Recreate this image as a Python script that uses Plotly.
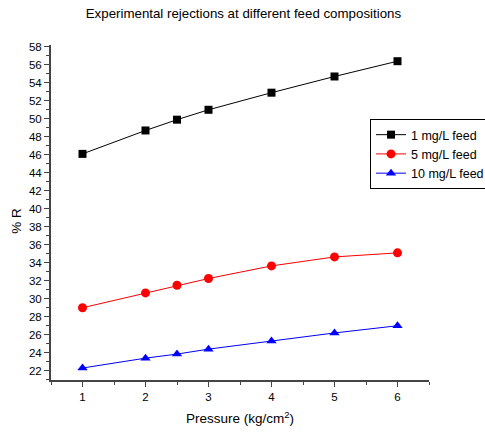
import plotly.graph_objects as go

pressure = [1, 2, 2.5, 3, 4, 5, 6]
feed_1 = [46.1, 48.7, 49.9, 51.0, 52.9, 54.7, 56.4]
feed_5 = [29.0, 30.65, 31.5, 32.25, 33.65, 34.65, 35.1]
feed_10 = [22.3, 23.4, 23.85, 24.4, 25.3, 26.2, 27.0]
y_ticks = list(range(22, 59, 2))
x_ticks = [1, 2, 3, 4, 5, 6]

fig = go.Figure()
fig.add_trace(go.Scatter(x=pressure, y=feed_1, mode="lines+markers", name="1 mg/L feed",
                         line=dict(color="black", width=1),
                         marker=dict(symbol="square", size=8, color="black")))
fig.add_trace(go.Scatter(x=pressure, y=feed_5, mode="lines+markers", name="5 mg/L feed",
                         line=dict(color="red", width=1),
                         marker=dict(symbol="circle", size=9, color="red")))
fig.add_trace(go.Scatter(x=pressure, y=feed_10, mode="lines+markers", name="10 mg/L feed",
                         line=dict(color="blue", width=1),
                         marker=dict(symbol="triangle-up", size=9, color="blue")))

font = "Liberation Sans, Arial, sans-serif"
fig.update_layout(
    width=485, height=436,
    margin=dict(l=51, r=56, t=45, b=56, autoexpand=False),
    paper_bgcolor="white", plot_bgcolor="white",
    font=dict(family=font, size=11.5, color="black"),
    title=dict(text="Experimental rejections at different feed compositions",
               x=0.509, xref="paper", xanchor="center", y=0.97, yanchor="middle",
               font=dict(size=13.3, family=font)),
    showlegend=True,
    legend=dict(x=0.844, y=0.779, xanchor="left", yanchor="top",
                bordercolor="black", borderwidth=1, bgcolor="white",
                font=dict(size=12.5, family=font), tracegroupgap=0,
                itemwidth=30),
    xaxis=dict(range=[0.5, 6.5], tickvals=x_ticks, ticks="outside", ticklen=5, tickwidth=1,
               tickcolor="#444", showline=True, linecolor="#444", linewidth=2,
               showgrid=False, zeroline=False, automargin=False,
               minor=dict(ticks="outside", ticklen=3, tickwidth=1, dtick=0.5, tick0=0.5, tickcolor="#444"),
               title=dict(text="Pressure (kg/cm<sup>2</sup>)", font=dict(size=13.5), standoff=12)),
    yaxis=dict(range=[20.97, 58.2], tickvals=y_ticks, ticks="outside", ticklen=5, tickwidth=1,
               tickcolor="#444", showline=True, linecolor="#444", linewidth=2,
               showgrid=False, zeroline=False, automargin=False,
               minor=dict(ticks="outside", ticklen=3, tickwidth=1, dtick=1, tick0=21, tickcolor="#444")),
    annotations=[dict(text="% R", textangle=-90, xref="paper", yref="paper",
                      x=-0.09, y=0.475, xanchor="center", yanchor="middle",
                      showarrow=False, font=dict(size=13.5, family=font))],
)

fig.write_html("out.html", config={"displayModeBar": False},
               post_script="document.body.style.margin='0';document.body.style.padding='0';")
